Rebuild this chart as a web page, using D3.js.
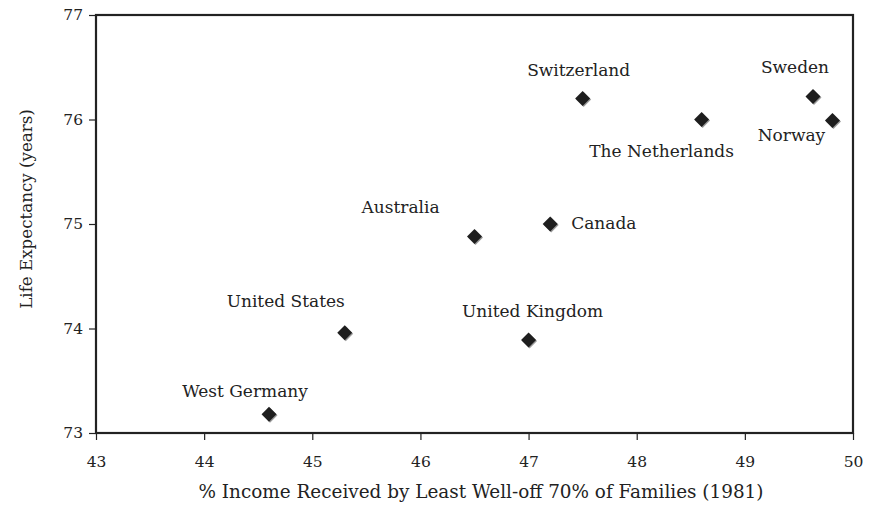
<!DOCTYPE html>
<html>
<head>
<meta charset="utf-8">
<script src="https://cdn.jsdelivr.net/npm/d3@7/dist/d3.min.js"></script>
<style>
  body { margin: 0; background: #fff; }
  text { font-family: "DejaVu Serif", "Liberation Serif", serif; fill: #222; }
</style>
</head>
<body>
<svg id="canvas" width="869" height="512"></svg>
<script>
// data
var countries = ["West Germany", "United States", "United Kingdom", "Australia", "Canada",
                 "Switzerland", "The Netherlands", "Sweden", "Norway"];
var income = [44.6, 45.3, 47.0, 46.5, 47.2, 47.5, 48.6, 49.63, 49.81];
var lifeExp = [73.18, 73.96, 73.89, 74.88, 75.0, 76.2, 76.0, 76.22, 75.99];
var xTicks = [43, 44, 45, 46, 47, 48, 49, 50];
var yTicks = [73, 74, 75, 76, 77];

// label placement relative to the marker (dx, dy, anchor)
var labelPos = [
  [-24, -17, "middle"], [-59, -26, "middle"], [4, -23, "middle"], [-74, -24, "middle"],
  [21, 5, "start"], [-4, -23, "middle"], [-40, 37, "middle"], [-18, -24, "middle"],
  [-41, 20, "middle"]
];

var width = 869, height = 512;
var margins = { left: 96, right: 16, top: 15, bottom: 79 };

var canvas = d3.select("#canvas");

var x = d3.scaleLinear().domain([43, 50]).range([margins.left, width - margins.right]);
var y = d3.scaleLinear().domain([73, 77]).range([height - margins.bottom, margins.top]);

// axes
var xAxis = canvas.append("g")
  .attr("transform", "translate(0," + (height - margins.bottom) + ")")
  .call(d3.axisBottom(x).tickValues(xTicks).tickFormat(d3.format("d"))
    .tickSize(7).tickPadding(16).tickSizeOuter(0));
var yAxis = canvas.append("g")
  .attr("transform", "translate(" + margins.left + ",0)")
  .call(d3.axisLeft(y).tickValues(yTicks).tickFormat(d3.format("d"))
    .tickSize(7).tickPadding(6).tickSizeOuter(0));

[xAxis, yAxis].forEach(function(a) {
  a.select(".domain").remove();
  a.selectAll("line").attr("stroke", "#222").attr("stroke-width", 1.2);
  a.selectAll("text").style("font-size", "15.5px").style("font-family", "DejaVu Serif, serif").attr("fill", "#222");
});

// frame
canvas.append("rect")
  .attr("x", x(43)).attr("y", y(77))
  .attr("width", x(50) - x(43)).attr("height", y(73) - y(77))
  .attr("fill", "none").attr("stroke", "#222").attr("stroke-width", 2.2);

// axis titles
canvas.append("text")
  .attr("x", 481).attr("y", 498)
  .attr("text-anchor", "middle")
  .style("font-size", "18.4px")
  .text("% Income Received by Least Well-off 70% of Families (1981)");
canvas.append("g")
  .attr("transform", "translate(32,209) rotate(-90)")
  .append("text")
  .attr("text-anchor", "middle")
  .style("font-size", "16.7px")
  .text("Life Expectancy (years)");

// markers
var diamond = d3.symbol().type(d3.symbolSquare).size(112);
var pts = canvas.append("g");
countries.forEach(function(c, i) {
  pts.append("path")
    .attr("d", diamond())
    .attr("transform", "translate(" + (x(income[i]) + 1) + "," + (y(lifeExp[i]) + 1) + ") rotate(45)")
    .attr("fill", "#999");
  pts.append("path")
    .attr("d", diamond())
    .attr("transform", "translate(" + x(income[i]) + "," + y(lifeExp[i]) + ") rotate(45)")
    .attr("fill", "#1e1e1e");
});

// labels
canvas.append("g")
  .selectAll("text")
  .data(countries)
  .enter()
  .append("text")
  .attr("x", function(d, i) { return x(income[i]) + labelPos[i][0]; })
  .attr("y", function(d, i) { return y(lifeExp[i]) + labelPos[i][1]; })
  .attr("text-anchor", function(d, i) { return labelPos[i][2]; })
  .style("font-size", "17px")
  .text(function(d) { return d; });
</script>
</body>
</html>
